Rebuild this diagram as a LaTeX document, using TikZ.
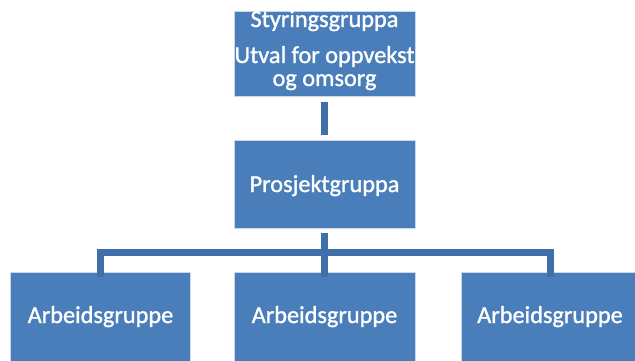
\documentclass[tikz,border=0pt]{standalone}
\usepackage{fontspec}
\setmainfont{Carlito}[FakeBold=1.2]
\begin{document}
\begin{tikzpicture}[x=1pt,y=-1pt,
  box/.style={draw=white!70!boxblue, line width=0.6pt, fill=boxblue, inner sep=0pt, anchor=north west},
  lbl/.style={text=white, font=\fontsize{24.3}{28}\selectfont, anchor=base, inner sep=0pt},
  conn/.style={draw=linkblue, line width=7pt}]
\definecolor{boxblue}{HTML}{4A7EBA}
\definecolor{linkblue}{HTML}{3F6EA8}
\useasboundingbox (0,0) rectangle (635,361);
\begin{scope}
\clip (0,0) rectangle (635,361);
\node[box, minimum width=181pt, minimum height=85pt] (top) at (234,11) {};
\node[box, minimum width=181pt, minimum height=88pt] (proj) at (234,140) {};
\node[box, minimum width=180pt, minimum height=100pt] (a1) at (10,272) {};
\node[box, minimum width=181pt, minimum height=100pt] (a2) at (234,272) {};
\node[box, minimum width=180pt, minimum height=100pt] (a3) at (461,272) {};
\end{scope}
\node[lbl] (t1) at (324.5,27) {Styringsgruppa};
\node[lbl] (t2) at (324.5,63) {Utval for oppvekst};
\node[lbl] (t3) at (324.5,86) {og omsorg};
\node[lbl] (tp) at (324.5,192) {Prosjektgruppa};
\node[lbl] (ta1) at (100.5,323) {Arbeidsgruppe};
\node[lbl] (ta2) at (324.5,323) {Arbeidsgruppe};
\node[lbl] (ta3) at (550,323) {Arbeidsgruppe};
\coordinate (c1) at (324.5,102);
\coordinate (c2) at (324.5,135);
\coordinate (bus) at (324.5,252);
\coordinate (busL) at (100,252);
\coordinate (busR) at (550,252);
\draw[conn] (c1) -- (c2);
\draw[conn] (proj.south -| bus) ++(0,4) -- ([yshift=-5pt]a2.north -| bus);
\draw[conn] ([yshift=-5pt]a1.north -| busL) -- (busL) -- (busR) -- ([yshift=-5pt]a3.north -| busR);
\end{tikzpicture}
\end{document}
